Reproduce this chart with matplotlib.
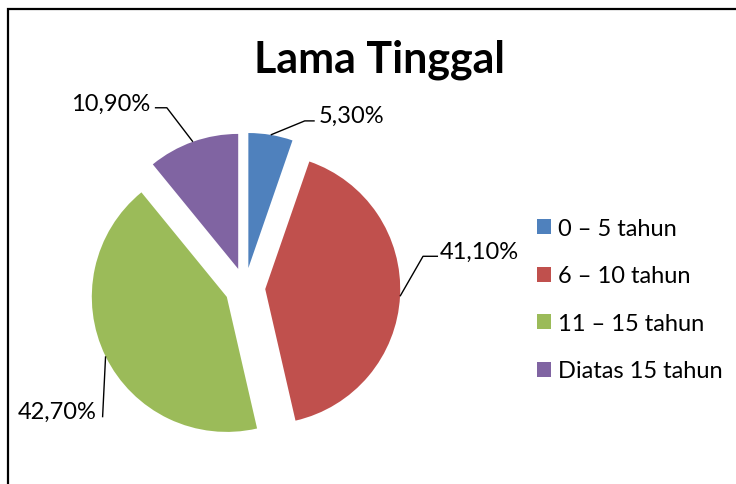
import numpy as np
import matplotlib
matplotlib.use("Agg")
import matplotlib.pyplot as plt

# ---- data ----
categories = ["0 \u2013 5 tahun", "6 \u2013 10 tahun", "11 \u2013 15 tahun", "Diatas 15 tahun"]
values = [5.3, 41.1, 42.7, 10.9]
colors = ["#4F81BD", "#C0504D", "#9BBB59", "#8064A2"]
title = "Lama Tinggal"

W, H = 736, 485
plt.rcParams['font.family'] = ['Lato', 'DejaVu Sans']

fig = plt.figure(figsize=(W / 100, H / 100), dpi=100)
ax = fig.add_axes([0, 0, 1, 1])

def Y(y):
    return H - y

R = 135
wedges, _ = ax.pie(values, colors=colors, startangle=90, counterclock=False,
                   explode=[0.15 * R] * 4, radius=R, center=(245, Y(289)),
                   wedgeprops=dict(linewidth=0), frame=True)
ax.set_xlim(0, W)
ax.set_ylim(0, H)
ax.set_aspect('equal')
ax.axis('off')

# label layout (pixel offsets from the slice's outer mid-point; y up)
layout = [
    dict(elbow=(34, 14), end=10, ha='left', tdx=4, tdy=-1),
    dict(elbow=(23, 40), end=15, ha='left', tdx=2, tdy=-2),
    dict(elbow=None, end=(-3, -61), ha='right', tdx=-6, tdy=-1),
    dict(elbow=(-26, 34), end=-12, ha='right', tdx=-5, tdy=-2),
]
lab_fs = 17
for w, v, lay in zip(wedges, values, layout):
    mid = np.deg2rad((w.theta1 + w.theta2) / 2)
    cx, cy = w.center
    px, py = cx + w.r * np.cos(mid), cy + w.r * np.sin(mid)
    if lay['elbow'] is not None:
        ex, ey = px + lay['elbow'][0], py + lay['elbow'][1]
        fx, fy = ex + lay['end'], ey
        ax.plot([px, ex, fx], [py, ey, fy], color='black', lw=1.0, solid_capstyle='butt')
    else:
        fx, fy = px + lay['end'][0], py + lay['end'][1]
        ax.plot([px, fx], [py, fy], color='black', lw=1.0, solid_capstyle='butt')
    txt = ("%.2f%%" % v).replace('.', ',')
    ax.text(fx + lay['tdx'], fy + lay['tdy'], txt, ha=lay['ha'], va='baseline',
            fontsize=lab_fs, color='black')

# title
ax.text(379.5, Y(72.7), title, ha='center', va='baseline', fontsize=31,
        fontweight='bold', color='black')

# legend
leg = ax.legend(wedges, categories, loc='upper left',
                bbox_to_anchor=(536.5, Y(219)), bbox_transform=ax.transData,
                frameon=False, fontsize=lab_fs, handlelength=0.6, handleheight=0.6,
                handletextpad=0.3, labelspacing=1.12, borderpad=0, borderaxespad=0)

# chart border (partially clipped, as in the reference)
ax.plot([8, 8, W + 5], [Y(H + 5), Y(10), Y(10)], color='black', lw=1.6,
        solid_joinstyle='miter', clip_on=False)

fig.savefig("out.png", dpi=100)
